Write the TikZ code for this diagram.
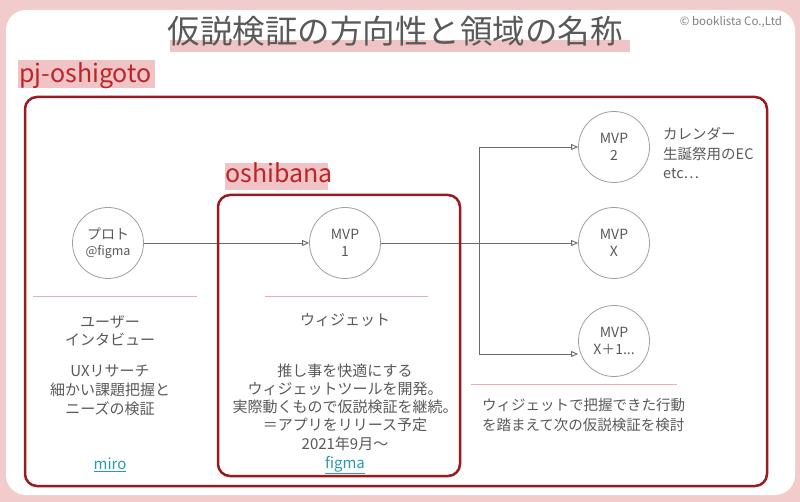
\documentclass[tikz,border=0pt]{standalone}
\usepackage{fontspec}
\setmainfont{Noto Sans CJK JP}
\usetikzlibrary{arrows.meta}
\definecolor{bgpink}{HTML}{F2CBCC}
\definecolor{hlpink}{HTML}{F0C3C5}
\definecolor{darkred}{HTML}{9A1B1F}
\definecolor{labelred}{HTML}{B8262B}
\definecolor{txtgray}{HTML}{595959}
\definecolor{circgray}{HTML}{A0A0A0}
\definecolor{linegray}{HTML}{6A6A6A}
\definecolor{seppink}{HTML}{E5AEB0}
\definecolor{linkteal}{HTML}{2A9AB0}
\begin{document}
\begin{tikzpicture}[x=1pt,y=-1pt,
  mvp/.style={circle,draw=circgray,line width=0.8pt,fill=white,minimum size=71pt,inner sep=0pt,
    align=center,text=txtgray,font=\fontsize{14}{17}\selectfont},
  body/.style={align=center,text=txtgray,inner sep=0pt,font=\fontsize{15}{18.2}\selectfont},
  bodyl/.style={align=left,text=txtgray,inner sep=0pt,anchor=west,font=\fontsize{14.5}{19.5}\selectfont},
  link/.style={text=linkteal,inner sep=0pt,font=\fontsize{15}{18}\selectfont},
  redlabel/.style={text=labelred,inner sep=0pt,anchor=base west,font=\fontsize{25}{26}\selectfont},
  redbox/.style={draw=darkred,line width=2.5pt,rounded corners=12pt},
  sepline/.style={draw=seppink,line width=1pt},
  arr/.style={draw=linegray,line width=0.9pt,-{Triangle[open,length=7pt,width=6pt]}},
  conn/.style={draw=linegray,line width=0.9pt}]
\useasboundingbox (0,0) rectangle (800,502);
\fill[bgpink] (0,0) rectangle (800,502);
\fill[white,rounded corners=20pt] (6,10) rectangle (795,495);

% title
\fill[hlpink] (170,40) rectangle (630,52);
\node[text=txtgray,inner sep=0pt,font=\fontsize{32.5}{36}\selectfont] (title) at (395,31) {仮説検証の方向性と領域の名称};
\node[text=gray,inner sep=0pt,font=\fontsize{11.5}{12}\selectfont] (copy) at (731,22) {© booklista Co.,Ltd};

% labels
\fill[hlpink] (18,60) rectangle (155,88);
\node[redlabel] (pj) at (19,83) {pj-oshigoto};
\fill[hlpink] (225,163) rectangle (328,190);
\node[redlabel] (osb) at (225,183) {oshibana};

% separators
\draw[sepline] (33,297) -- (197,297);
\draw[sepline] (265,297) -- (428,297);
\draw[sepline] (471,384) -- (677,384);

% circles
\node[mvp] (plot) at (108,243) {プロト\\[-1pt]{\fontsize{12.5}{14}\selectfont @figma}};
\node[mvp] (mvp1) at (345,243) {MVP\\1};
\node[mvp] (mvp2) at (614,147) {MVP\\2};
\node[mvp] (mvpx) at (614,243) {MVP\\X};
\node[mvp] (mvpx1) at (614,341) {MVP\\X＋1...};

% connectors
\coordinate (j1) at (479,147);
\coordinate (j3) at (479,354);
\draw[arr] (plot) -- (mvp1);
\draw[arr] (mvp1) -- (mvpx);
\draw[conn] (j1) -- (j3);
\draw[arr] (j1) -- (mvp2);
\draw[arr] (j3) -- (j3 -| mvpx1.west);

% boxes
\draw[redbox] (25,97) rectangle (767,486);
\draw[redbox] (218,195) rectangle (460,476);

% texts
\node[body] (t1) at (110,331) {ユーザー\\インタビュー};
\node[body,font=\fontsize{15}{19}\selectfont] (t2) at (110,390) {UXリサーチ\\細かい課題把握と\\ニーズの検証};
\node[link] (miro) at (110,465) {\underline{miro}};
\node[body] (t3) at (345,320) {ウィジェット};
\node[body] (t4) at (345,407) {推し事を快適にする\\ウィジェットツールを開発。\\実際動くもので仮説検証を継続。\\＝アプリをリリース予定\\2021年9月〜};
\node[link] (figma) at (345,465) {\underline{figma}};
\node[bodyl] (t5) at (663,153) {カレンダー\\生誕祭用のEC\\etc…};
\node[bodyl] (t6) at (482,415) {ウィジェットで把握できた行動\\を踏まえて次の仮説検証を検討};
\end{tikzpicture}
\end{document}
